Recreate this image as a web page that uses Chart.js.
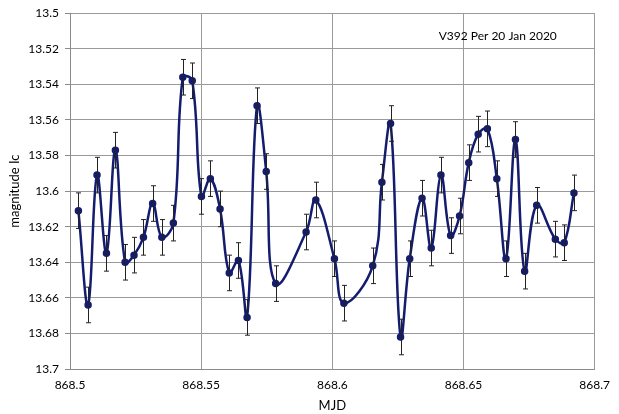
<!DOCTYPE html>
<html>
<head>
<meta charset="utf-8">
<script src="https://cdn.jsdelivr.net/npm/chart.js@4"></script>
<style>
  html, body { margin: 0; padding: 0; background: #fff; }
  #wrap { width: 619px; height: 414px; }
</style>
</head>
<body>
<div id="wrap"><canvas id="chart" width="619" height="414"></canvas></div>
<script>
const mjd = [
  868.5032, 868.5069, 868.5103, 868.5139, 868.5173, 868.5210, 868.5244, 868.5280,
  868.5315, 868.5350, 868.5394, 868.5430, 868.5466, 868.5501, 868.5535, 868.5572,
  868.5607, 868.5642, 868.5675, 868.5713, 868.5748, 868.5784, 868.5900, 868.5937,
  868.6008, 868.6044, 868.6154, 868.6189, 868.6222, 868.6260, 868.6295, 868.6342,
  868.6377, 868.6414, 868.6451, 868.6485, 868.6520, 868.6556, 868.6591, 868.6627,
  868.6662, 868.6698, 868.6733, 868.6779, 868.6850, 868.6884, 868.6921
];
const magIc = [
  13.611, 13.664, 13.591, 13.635, 13.577, 13.640, 13.636, 13.626,
  13.607, 13.626, 13.618, 13.536, 13.538, 13.603, 13.593, 13.610,
  13.646, 13.639, 13.671, 13.552, 13.589, 13.652, 13.623, 13.605,
  13.638, 13.663, 13.642, 13.595, 13.562, 13.682, 13.638, 13.604,
  13.632, 13.591, 13.625, 13.614, 13.584, 13.568, 13.565, 13.593,
  13.638, 13.571, 13.645, 13.608, 13.627, 13.629, 13.601
];
const magErr = [
  0.010, 0.010, 0.010, 0.010, 0.010, 0.010, 0.010, 0.010,
  0.010, 0.010, 0.010, 0.010, 0.010, 0.010, 0.010, 0.010,
  0.010, 0.010, 0.010, 0.010, 0.010, 0.010, 0.010, 0.010,
  0.010, 0.010, 0.010, 0.010, 0.010, 0.010, 0.010, 0.010,
  0.010, 0.010, 0.010, 0.010, 0.010, 0.010, 0.010, 0.010,
  0.010, 0.010, 0.010, 0.010, 0.010, 0.010, 0.010
];
const chartLabel = 'V392 Per 20 Jan 2020';

const FONT = 'Lato, "Open Sans", sans-serif';
const navy = '#141c6e';

// error bars, drawn through the chart scales
const errorBars = {
  id: 'errorBars',
  afterDatasetsDraw(chart) {
    const { ctx, scales: { x, y } } = chart;
    ctx.save();
    ctx.strokeStyle = '#222';
    ctx.lineWidth = 1;
    mjd.forEach((t, i) => {
      const px = Math.round(x.getPixelForValue(t)) + 0.5;
      const top = y.getPixelForValue(magIc[i] - magErr[i]);
      const bot = y.getPixelForValue(magIc[i] + magErr[i]);
      ctx.beginPath();
      ctx.moveTo(px, top); ctx.lineTo(px, bot);
      ctx.moveTo(px - 2.5, top); ctx.lineTo(px + 2.5, top);
      ctx.moveTo(px - 2.5, bot); ctx.lineTo(px + 2.5, bot);
      ctx.stroke();
    });
    ctx.restore();
  }
};

const innerLabel = {
  id: 'innerLabel',
  afterDraw(chart) {
    const { ctx, chartArea } = chart;
    ctx.save();
    ctx.font = '12px ' + FONT;
    ctx.fillStyle = '#000';
    ctx.textBaseline = 'middle';
    ctx.fillText(chartLabel, chartArea.right - 156, chartArea.top + 23);
    ctx.restore();
  }
};

const fmt = (v) => String(parseFloat(Number(v).toFixed(2)));

new Chart(document.getElementById('chart'), {
  type: 'line',
  data: {
    datasets: [{
      data: mjd.map((t, i) => ({ x: t, y: magIc[i] })),
      borderColor: navy,
      backgroundColor: navy,
      borderWidth: 2.5,
      pointRadius: 2.5,
      pointBackgroundColor: navy,
      pointBorderColor: navy,
      tension: 0.4,
      fill: false
    }]
  },
  options: {
    responsive: false,
    animation: false,
    layout: { padding: { top: 9, right: 22, left: 0, bottom: 0 } },
    plugins: { legend: { display: false }, tooltip: { enabled: false } },
    scales: {
      x: {
        type: 'linear',
        min: 868.5,
        max: 868.7,
        afterFit: (s) => { s.height = 45; },
        ticks: {
          stepSize: 0.05,
          padding: 9,
          color: '#000',
          font: { family: FONT, size: 12 },
          callback: fmt
        },
        grid: { color: '#9a9a9a', drawTicks: false },
        border: { color: '#8a8a8a' },
        title: {
          display: true,
          text: 'MJD',
          color: '#000',
          font: { family: FONT, size: 13 },
          padding: { top: 4, bottom: 0 }
        }
      },
      y: {
        reverse: true,
        min: 13.5,
        max: 13.7,
        afterFit: (s) => { s.width = 70; },
        ticks: {
          stepSize: 0.02,
          padding: 6,
          color: '#000',
          font: { family: FONT, size: 12 },
          callback: fmt
        },
        grid: { color: '#9a9a9a', tickLength: 5, tickColor: '#8a8a8a' },
        border: { color: '#8a8a8a' },
        title: {
          display: true,
          text: 'magnitude Ic',
          color: '#000',
          font: { family: FONT, size: 13 },
          padding: { top: 7, bottom: 0 }
        }
      }
    }
  },
  plugins: [errorBars, innerLabel]
});
</script>
</body>
</html>
